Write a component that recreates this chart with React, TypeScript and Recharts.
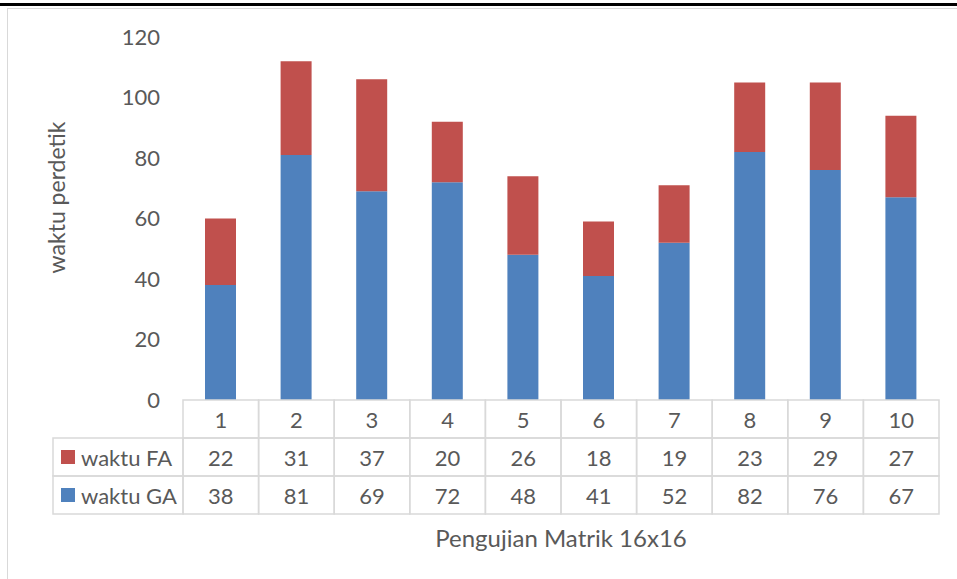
import { BarChart, Bar, XAxis, YAxis } from 'recharts';

const CATEGORIES = ['1', '2', '3', '4', '5', '6', '7', '8', '9', '10'];
const WAKTU_FA = [22, 31, 37, 20, 26, 18, 19, 23, 29, 27];
const WAKTU_GA = [38, 81, 69, 72, 48, 41, 52, 82, 76, 67];
const Y_TICKS = [0, 20, 40, 60, 80, 100, 120];

const FA_COLOR = '#C0504D';
const GA_COLOR = '#4F81BD';
const TEXT = '#595959';
const LINE = '#D9D9D9';
const FONT = 'Lato, "Open Sans", sans-serif';
const FONT_SIZE = 22;

// table rows under the plot, same order as the reference (FA first)
const TABLE_ROWS = [
  { name: 'waktu FA', values: WAKTU_FA, color: FA_COLOR },
  { name: 'waktu GA', values: WAKTU_GA, color: GA_COLOR },
];

const data = CATEGORIES.map((c, i) => ({ name: c, fa: WAKTU_FA[i], ga: WAKTU_GA[i] }));

const ROW_H = 38;
const LEGEND_W = 130;

function TableTick(props: any) {
  const { x, y, payload, index, width } = props;
  const bw = width / CATEGORIES.length;
  const left = x - bw / 2;
  return (
    <g fontFamily={FONT} fontSize={FONT_SIZE} fill={TEXT}>
      <rect x={left} y={y} width={bw} height={ROW_H} fill="none" stroke={LINE} strokeWidth={1.5} />
      <text x={x} y={y + ROW_H / 2} textAnchor="middle" dominantBaseline="central" fill={TEXT}>
        {payload.value}
      </text>
      {TABLE_ROWS.map((row, r) => (
        <g key={row.name}>
          <rect
            x={left}
            y={y + ROW_H * (r + 1)}
            width={bw}
            height={ROW_H}
            fill="none"
            stroke={LINE}
            strokeWidth={1.5}
          />
          <text
            x={x}
            y={y + ROW_H * (r + 1.5)}
            textAnchor="middle"
            dominantBaseline="central"
            fill={TEXT}
          >
            {row.values[index]}
          </text>
          {index === 0 && (
            <g>
              <rect
                x={left - LEGEND_W}
                y={y + ROW_H * (r + 1)}
                width={LEGEND_W}
                height={ROW_H}
                fill="none"
                stroke={LINE}
                strokeWidth={1.5}
              />
              <rect x={left - LEGEND_W + 8} y={y + ROW_H * (r + 1.5) - 7} width={14} height={14} fill={row.color} />
              <text
                x={left - LEGEND_W + 28}
                y={y + ROW_H * (r + 1.5)}
                dominantBaseline="central"
                fill={TEXT}
              >
                {row.name}
              </text>
            </g>
          )}
        </g>
      ))}
    </g>
  );
}

function XTitle(props: any) {
  const vb = props.viewBox;
  return (
    <text
      x={vb.x + vb.width / 2}
      y={vb.y + 137}
      textAnchor="middle"
      dominantBaseline="central"
      fontFamily={FONT}
      fontSize={24}
      fill={TEXT}
    >
      Pengujian Matrik 16x16
    </text>
  );
}

function YTitle(props: any) {
  const vb = props.viewBox;
  const cx = vb.x + 56;
  const cy = vb.y + vb.height / 2 - 21;
  return (
    <text
      x={cx}
      y={cy}
      transform={`rotate(-90 ${cx} ${cy})`}
      textAnchor="middle"
      dominantBaseline="central"
      fontFamily={FONT}
      fontSize={23}
      fill={TEXT}
    >
      waktu perdetik
    </text>
  );
}

export default function App() {
  return (
    <div style={{ position: 'absolute', left: 0, top: 0, width: 957, height: 579, background: '#fff' }}>
      <div style={{ position: 'absolute', left: 0, top: 3, width: 957, height: 3, background: '#000' }} />
      <div style={{ position: 'absolute', left: 7, top: 8, width: 950, height: 1, background: LINE }} />
      <div style={{ position: 'absolute', left: 7, top: 8, width: 1, height: 571, background: LINE }} />
      <div style={{ position: 'absolute', left: 0, top: 0 }}>
        <BarChart
          width={957}
          height={579}
          data={data}
          margin={{ top: 37, right: 18, left: 0, bottom: 0 }}
        >
          <XAxis
            dataKey="name"
            height={179}
            axisLine={false}
            tickLine={false}
            tickSize={0}
            tickMargin={0}
            interval={0}
            tick={<TableTick />}
            label={<XTitle />}
          />
          <YAxis
            width={183}
            domain={[0, 120]}
            ticks={Y_TICKS}
            axisLine={false}
            tickLine={false}
            tickSize={0}
            tickMargin={23}
            tick={{ fill: TEXT, fontSize: FONT_SIZE, fontFamily: FONT }}
            label={<YTitle />}
          />
          <Bar dataKey="ga" stackId="a" fill={GA_COLOR} barSize={31} isAnimationActive={false} />
          <Bar dataKey="fa" stackId="a" fill={FA_COLOR} barSize={31} isAnimationActive={false} />
        </BarChart>
      </div>
    </div>
  );
}
